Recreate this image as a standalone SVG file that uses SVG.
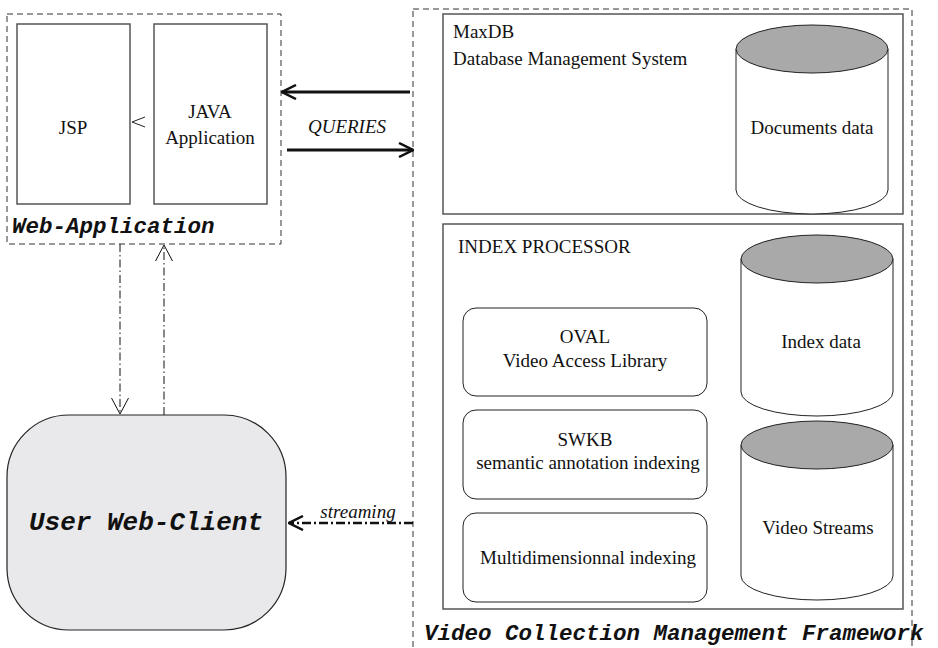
<svg xmlns="http://www.w3.org/2000/svg" width="938" height="648" viewBox="0 0 938 648">
<style>
.dash{fill:none;stroke:#333;stroke-width:1;stroke-dasharray:6 4}
.box{fill:#fff;stroke:#555;stroke-width:1.5}
.rbox{fill:#fff;stroke:#222;stroke-width:1}
.cyl{fill:#fff;stroke:#222;stroke-width:1}
.cyltop{fill:#a9a9a9;stroke:#222;stroke-width:1}
.t{font-family:"Liberation Serif","Times New Roman",serif;font-size:19px;fill:#111}
.tc{text-anchor:middle}
.mono{font-family:"Liberation Mono","Courier New",monospace;font-weight:bold;font-style:italic;fill:#111}
.lbl{font-family:"Liberation Serif","Times New Roman",serif;font-style:italic;font-size:19px;fill:#111;text-anchor:middle}
.thick{fill:none;stroke:#111;stroke-width:3}
.dd{fill:none;stroke:#111;stroke-width:1;stroke-dasharray:8 3 1.5 3}
.ddthick{fill:none;stroke:#111;stroke-width:2.5;stroke-dasharray:9 3 2 3}
</style>
<defs>
<marker id="headThick" viewBox="0 0 16 16" refX="15" refY="8" markerWidth="16" markerHeight="16" markerUnits="userSpaceOnUse" orient="auto">
<path d="M1,1 L15,8 L1,15" fill="none" stroke="#111" stroke-width="2.5"/>
</marker>
<marker id="headThin" viewBox="0 0 20 20" refX="17" refY="10" markerWidth="20" markerHeight="20" markerUnits="userSpaceOnUse" orient="auto">
<path d="M1,1.5 L17,10 L1,18.5" fill="none" stroke="#111" stroke-width="1"/>
</marker>
</defs>
<rect width="938" height="648" fill="#fff"/>

<g id="web-application">
<rect class="dash" x="7" y="14" width="274" height="230"/>
<text class="mono" x="12" y="233" font-size="22.5">Web-Application</text>
</g>
<g id="jsp">
<rect class="box" x="17" y="24" width="113" height="180"/>
<text class="t tc" x="73" y="134">JSP</text>
</g>
<g id="java-application">
<rect class="box" x="154" y="24" width="113" height="180"/>
<text class="t tc" x="210" y="118">JAVA</text>
<text class="t tc" x="210" y="144">Application</text>
</g>

<g id="video-collection-framework">
<rect class="dash" x="413" y="9" width="499" height="660"/>
<text class="mono" x="424" y="640" font-size="22.5">Video Collection Management Framework</text>
</g>
<g id="maxdb">
<rect class="box" x="443" y="14" width="460" height="200"/>
<text class="t" x="453" y="38">MaxDB</text>
<text class="t" x="453" y="65">Database Management System</text>
</g>
<g id="documents-data">
<path class="cyl" d="M736,49 L736,190 A76,24 0 0 0 888,190 L888,49 Z"/>
<ellipse class="cyltop" cx="812" cy="49" rx="76" ry="24"/>
<text class="t tc" x="812" y="134">Documents data</text>
</g>
<g id="index-processor">
<rect class="box" x="443" y="224" width="460" height="385"/>
<text class="t" x="458" y="253">INDEX PROCESSOR</text>
</g>
<g id="oval">
<rect class="rbox" x="463" y="308" width="244" height="88" rx="13"/>
<text class="t tc" x="585" y="343">OVAL</text>
<text class="t tc" x="585" y="367">Video Access Library</text>
</g>
<g id="swkb">
<rect class="rbox" x="463" y="410" width="244" height="89" rx="13"/>
<text class="t tc" x="585" y="446">SWKB</text>
<text class="t tc" x="588" y="469">semantic annotation indexing</text>
</g>
<g id="multidimensional">
<rect class="rbox" x="463" y="513" width="244" height="89" rx="13"/>
<text class="t tc" x="588" y="564">Multidimensionnal indexing</text>
</g>
<g id="index-data">
<path class="cyl" d="M741,259 L741,392 A76,24 0 0 0 893,392 L893,259 Z"/>
<ellipse class="cyltop" cx="817" cy="259" rx="76" ry="24"/>
<text class="t tc" x="821" y="348">Index data</text>
</g>
<g id="video-streams">
<path class="cyl" d="M741,445 L741,576 A76,24 0 0 0 893,576 L893,445 Z"/>
<ellipse class="cyltop" cx="817" cy="445" rx="76" ry="24"/>
<text class="t tc" x="818" y="534">Video Streams</text>
</g>

<g id="user-web-client">
<rect x="7" y="415" width="279" height="215" rx="62" fill="#e9e9eb" stroke="#222" stroke-width="1.2"/>
<text class="mono" x="146" y="530" font-size="26" text-anchor="middle">User Web-Client</text>
</g>

<g id="connectors">
<path d="M145,117 L132,122 L145,127" fill="none" stroke="#222" stroke-width="1"/>
<line class="thick" x1="410" y1="92" x2="282" y2="92" marker-end="url(#headThick)"/>
<line class="thick" x1="287" y1="150" x2="413" y2="150" marker-end="url(#headThick)"/>
<text class="lbl" x="347" y="133">QUERIES</text>
<line class="dd" x1="120" y1="244" x2="120" y2="414" marker-end="url(#headThin)"/>
<line class="dd" x1="164" y1="415" x2="164" y2="245" marker-end="url(#headThin)"/>
<line class="ddthick" x1="413" y1="523" x2="289" y2="523" marker-end="url(#headThick)"/>
<text class="lbl" x="358" y="518">streaming</text>
</g>
</svg>
